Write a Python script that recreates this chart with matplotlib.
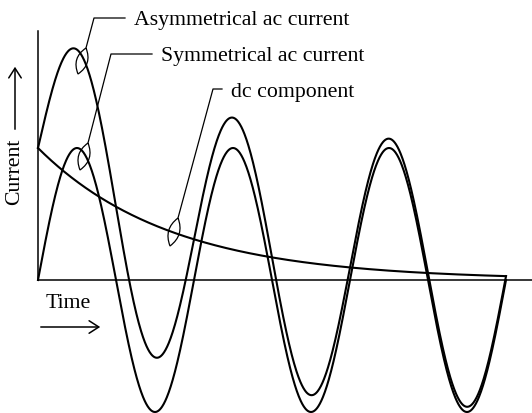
import numpy as np
import matplotlib
matplotlib.use("Agg")
import matplotlib.pyplot as plt
from matplotlib.path import Path
from matplotlib.patches import PathPatch, FancyArrowPatch
from matplotlib.transforms import Affine2D

# values (time in cycles, current in units of ac peak)
n_cycles = 3
ac_peak = 1.0
dc_start = 1.0
dc_tau = 0.85
labels = ["Asymmetrical ac current", "Symmetrical ac current", "dc component"]

t = np.linspace(0, n_cycles, 1200)
sym = ac_peak * np.sin(2 * np.pi * t)
dc = dc_start * np.exp(-t / dc_tau)
asym = sym + dc

W, H = 532, 413
fig = plt.figure(figsize=(W / 100, H / 100), dpi=100)
ax = fig.add_axes([0, 0, 1, 1])
ax.set_xlim(-38 / 156, 494 / 156)
ax.set_ylim(-133 / 132, 280 / 132)
ax.axis("off")

ax.plot(t, sym, color="black", lw=1.5)
ax.plot(t, asym, color="black", lw=1.5)
ax.plot(t, dc, color="black", lw=1.5)

# axes of the sketch
ax.plot([0, 0], [0, (280 - 31) / 132], color="black", lw=1.1)
ax.plot([0, ax.get_xlim()[1]], [0, 0], color="black", lw=1.1)

# pixel coordinates of the reference (y pointing down) for annotation layout
px = Affine2D().scale(1 / W, -1 / H).translate(0, 1) + fig.transFigure

font = dict(family="Liberation Serif", size=15.7, color="black")


def leader(text_x, text_y, x_turn, tip, tail, label):
    # horizontal stub, slanted line down to a small lens on the curve
    xs = [text_x - 9, x_turn, tip[0]]
    ys = [text_y, text_y, tip[1]]
    fig.add_artist(plt.Line2D(xs, ys, transform=px, color="black", lw=0.9))
    ax_dx, ax_dy = tail[0] - tip[0], tail[1] - tip[1]
    mx, my = (tip[0] + tail[0]) / 2, (tip[1] + tail[1]) / 2
    norm = np.hypot(ax_dx, ax_dy)
    nx, ny = -ax_dy / norm * 11, ax_dx / norm * 11
    verts = [tip, (mx + nx, my + ny), tail, (mx - nx, my - ny), tip]
    codes = [Path.MOVETO, Path.CURVE3, Path.CURVE3, Path.CURVE3, Path.CURVE3]
    fig.add_artist(PathPatch(Path(verts, codes), transform=px, fill=False,
                             ec="black", lw=0.9))
    fig.text(text_x, text_y + 3, label, transform=px, ha="left", va="center", **font)


leader(134, 18, 94, (86, 48), (78, 74), labels[0])
leader(161, 54, 111, (88, 143), (80, 170), labels[1])
leader(231, 89, 213, (178, 218), (170, 246), labels[2])

fig.text(15, 172, "Current", transform=px, rotation=90, ha="center", va="center", **font)
fig.add_artist(FancyArrowPatch((15, 132), (15, 64), transform=px, arrowstyle="->,head_length=7,head_width=4.5",
                               color="black", lw=1.1))
fig.text(68, 303, "Time", transform=px, ha="center", va="center", **font)
fig.add_artist(FancyArrowPatch((38, 327), (103, 327), transform=px, arrowstyle="->,head_length=7,head_width=4.5",
                               color="black", lw=1.1))

fig.savefig("out.png", dpi=100, facecolor="white")
